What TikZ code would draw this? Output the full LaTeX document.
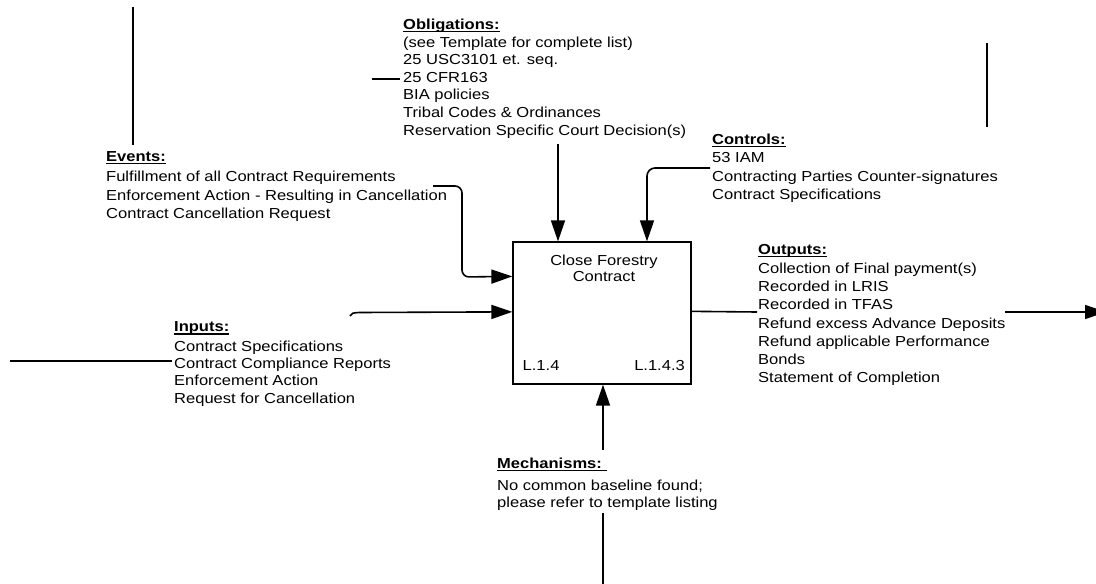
\documentclass[tikz,border=0pt]{standalone}
\usepackage{fontspec}
\setmainfont{Liberation Sans}[FakeStretch=1.14]
\usetikzlibrary{arrows.meta,calc}

% bold, underlined block heading
\newcommand\blockhead[1]{\setbox0\hbox{\bfseries #1}\rlap{\rule[-2.6pt]{\wd0}{1.1pt}}\box0}

% text blocks are placed by the baseline of their last line
\tikzset{
  txt/.style={inner sep=0pt, font=\fontsize{14.5}{17.6}\selectfont},
  blk/.style={txt, align=left, anchor=base west},
  line/.style={line width=1.6pt},
  conn/.style={line, -{Triangle[length=21pt,width=14pt]}},
  actbox/.style={draw, line width=1.3pt, minimum width=178pt, minimum height=142pt, inner sep=0pt}
}

\begin{document}
\begin{tikzpicture}[x=1pt,y=-1pt]
\useasboundingbox (0,0) rectangle (1096,584);
\fill[white] (0,0) rectangle (1096,584);

% activity box
\node[actbox] (act) at (602,313) {};
\node[txt, align=center, anchor=base, font=\fontsize{14.5}{16.7}\selectfont] (title) at (604,281.7) {Close Forestry\\Contract};
\node[txt, anchor=base west] (nodeL) at (522.5,370) {L.1.4};
\node[txt, anchor=base east] (nodeR) at (685,370) {L.1.4.3};

% text blocks
\node[blk] (obl) at (403,135) {\blockhead{Obligations:}\\(see Template for complete list)\\25 USC3101 et. seq.\\25 CFR163\\BIA policies\\Tribal Codes \& Ordinances\\Reservation Specific Court Decision(s)};
\node[blk, font=\fontsize{14.5}{18.5}\selectfont] (evt) at (106,218.5) {\blockhead{Events:}\\[1.5pt]Fulfillment of all Contract Requirements\\Enforcement Action - Resulting in Cancellation\\Contract Cancellation Request};
\node[blk, font=\fontsize{14.5}{18.3}\selectfont] (ctl) at (712,199.3) {\blockhead{Controls:}\\[0.4pt]53 IAM\\Contracting Parties Counter-signatures\\Contract Specifications};
\node[blk, font=\fontsize{14.5}{17.2}\selectfont] (inp) at (174,403) {\blockhead{Inputs:}\\[2.3pt]Contract Specifications\\Contract Compliance Reports\\Enforcement Action\\Request for Cancellation};
\node[blk, font=\fontsize{14.5}{18.2}\selectfont] (outp) at (758,382.7) {\blockhead{Outputs:}\\[1pt]Collection of Final payment(s)\\Recorded in LRIS\\Recorded in TFAS\\Refund excess Advance Deposits\\Refund applicable Performance\\Bonds\\Statement of Completion};
\node[blk, font=\fontsize{14.5}{17}\selectfont] (mech) at (497,507) {\blockhead{Mechanisms:\ }\\[5pt]No common baseline found;\\please refer to template listing};

% connector ports and free ends
\coordinate (inE) at ($(act.north west)+(0,35)$);
\coordinate (inI) at ($(act.north west)+(0,70.5)$);
\coordinate (outA) at ($(act.north east)+(0,70)$);
\coordinate (evS) at (433,186);
\coordinate (evC1) at (462,186);
\coordinate (evC2) at (462,277);
\coordinate (inS) at (350,316);
\coordinate (inB) at (359,312.5);
\coordinate (obS) at (558,144);
\coordinate (ctS) at (710,168);
\coordinate (ctC) at (647,168);
\coordinate (meS) at (603,450);
\coordinate (meB1) at (603,513);
\coordinate (meB2) at (603,590);
\coordinate (outT) at (757,312);
\coordinate (outB) at (1005,312);
\coordinate (outE) at (1106,312);
\coordinate (tl1) at (133,7);
\coordinate (tl2) at (133,145);
\coordinate (tr1) at (987,43);
\coordinate (tr2) at (987,127);
\coordinate (ob1) at (372,79);
\coordinate (ob2) at (400,79);
\coordinate (ip1) at (10,361);
\coordinate (ip2) at (172,361);

% connectors
\draw[conn, rounded corners=7pt] (evS) -- (evC1) -- (evC2) -- (inE);
\draw[conn] (inS) .. controls (352,313) .. (inB) -- (inI);
\draw[conn] (obS) -- (obS |- act.north);
\draw[conn, rounded corners=8pt] (ctS) -- (ctC) -- (ctC |- act.north);
\draw[conn] (meS) -- (meS |- act.south);
\draw[line] (meB1) -- (meB2);
\draw[line] (outA) -- (outT);
\draw[conn] (outB) -- (outE);
\draw[line] (tl1) -- (tl2);
\draw[line] (tr1) -- (tr2);
\draw[line] (ob1) -- (ob2);
\draw[line] (ip1) -- (ip2);
\end{tikzpicture}
\end{document}
